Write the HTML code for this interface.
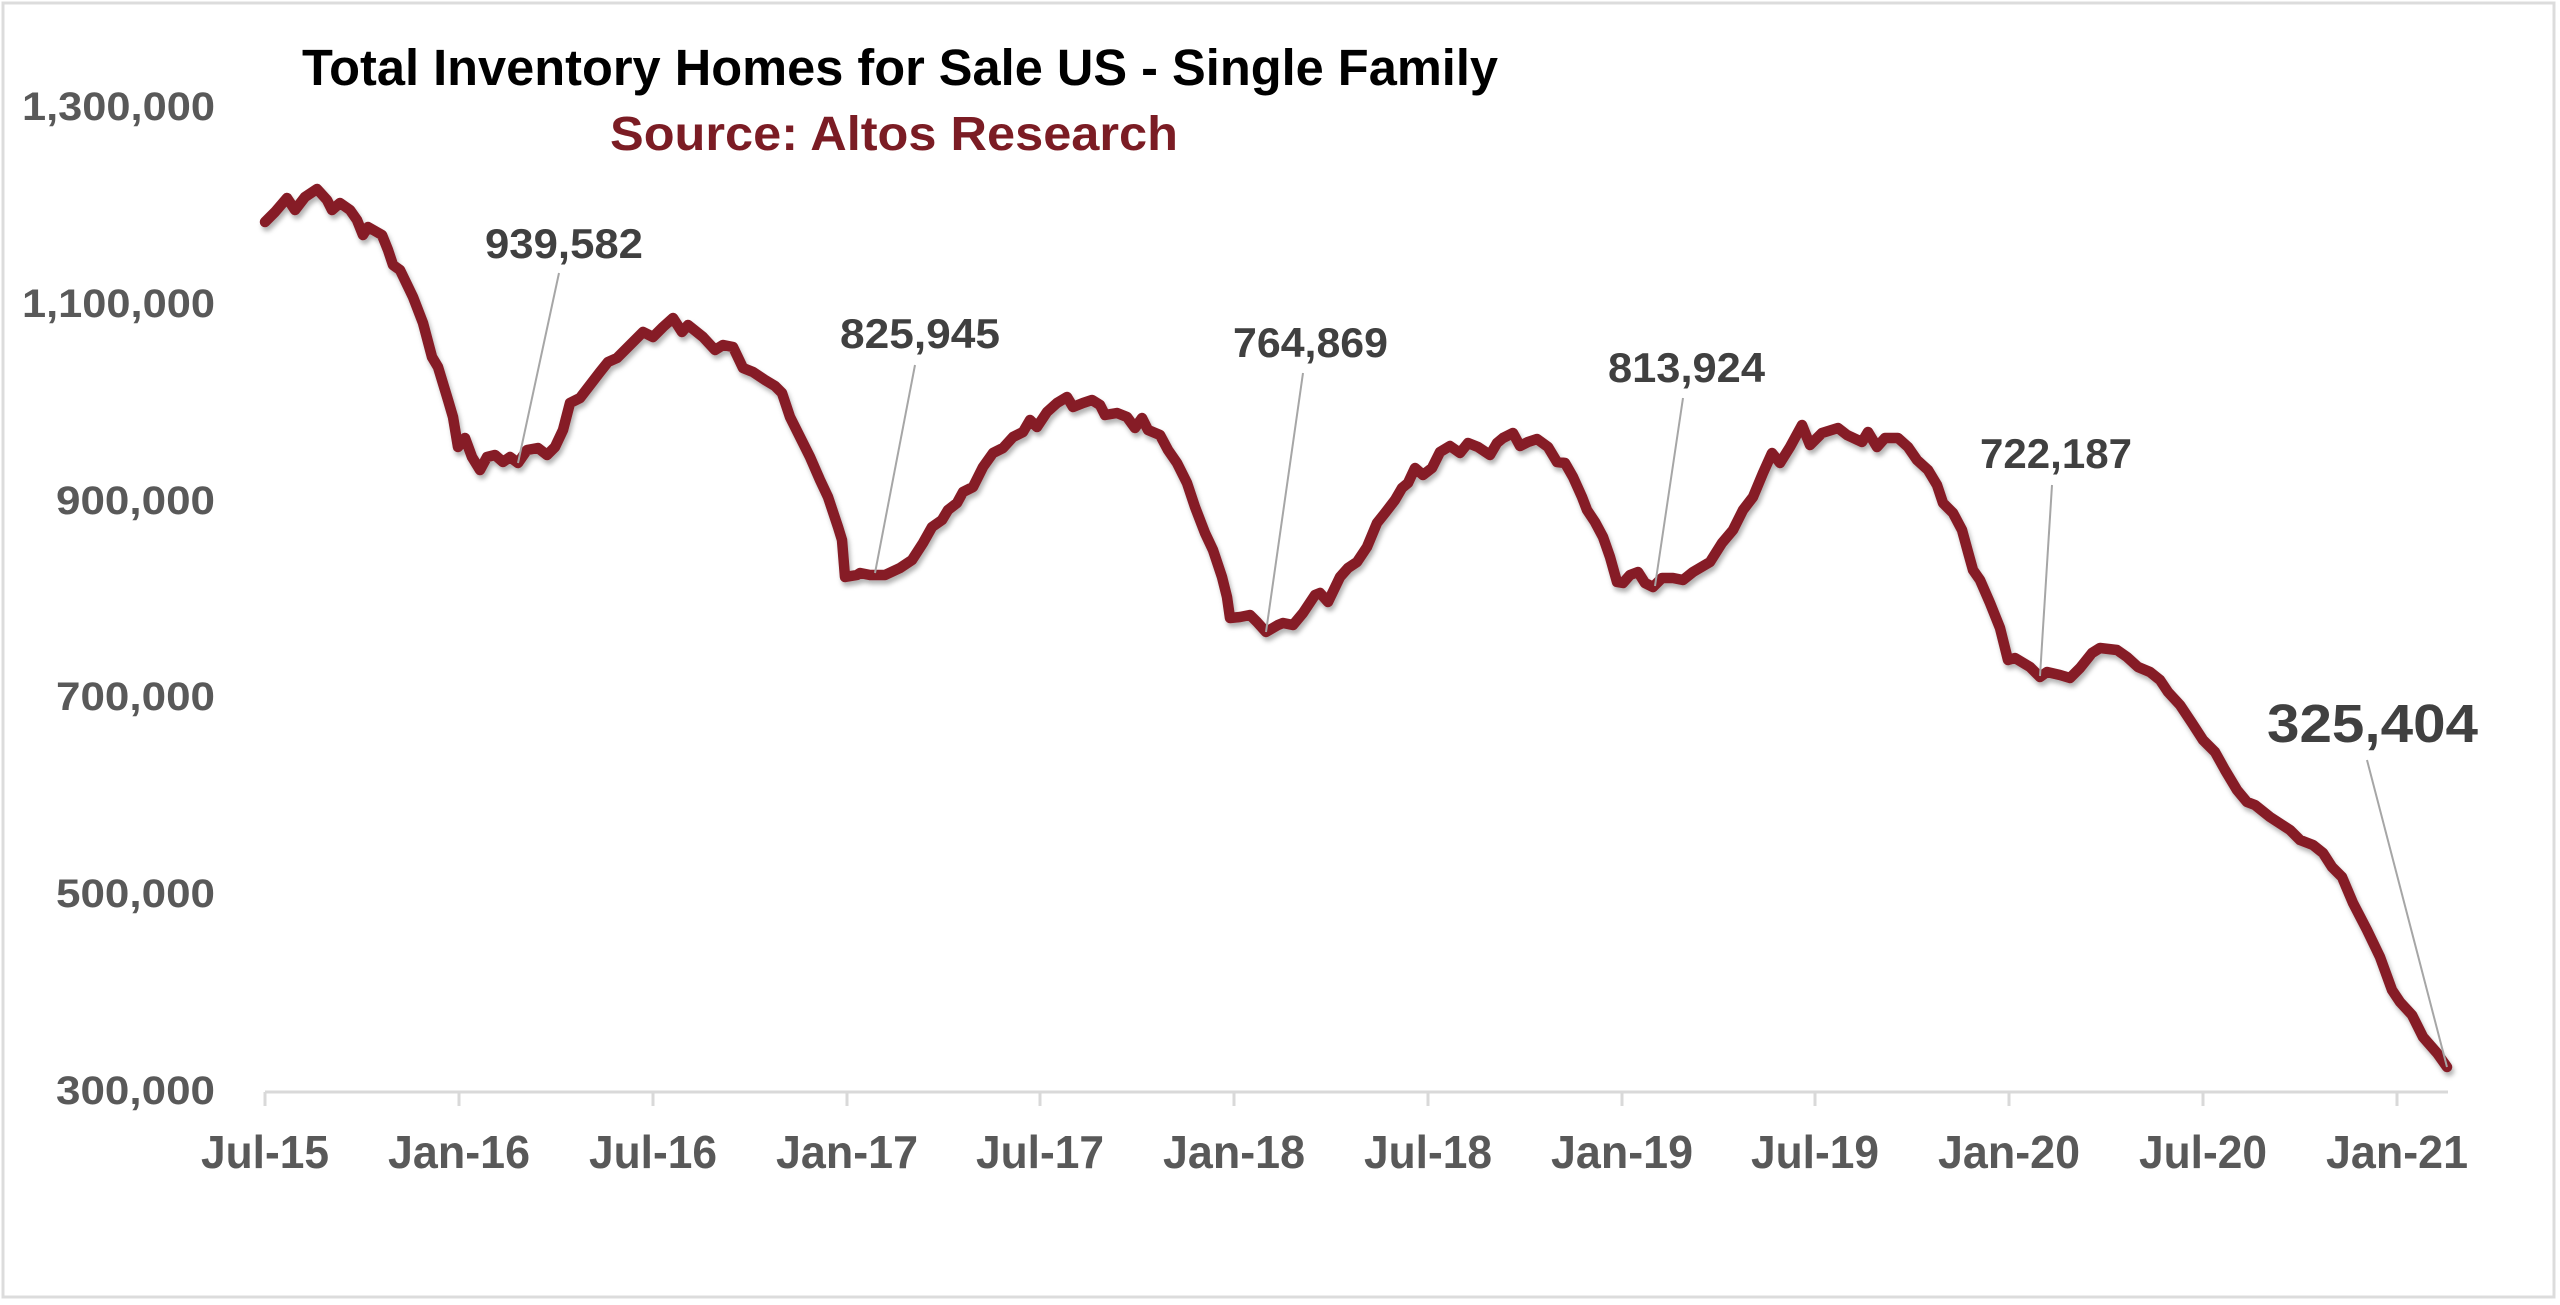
<!DOCTYPE html>
<html>
<head>
<meta charset="utf-8">
<style>
html,body{margin:0;padding:0;background:#fff;}
svg{display:block;}
text{font-family:"Liberation Sans",Arial,sans-serif;}
</style>
</head>
<body>
<svg width="2560" height="1305" viewBox="0 0 2560 1305" xmlns="http://www.w3.org/2000/svg">
<defs>
<filter id="sh" x="-5%" y="-5%" width="110%" height="115%">
<feDropShadow dx="2" dy="4" stdDeviation="2.5" flood-color="#000" flood-opacity="0.3"/>
</filter>
</defs>
<rect x="0" y="0" width="2560" height="1305" fill="#fff"/>
<rect x="3" y="3" width="2551" height="1294" fill="none" stroke="#dcdcdc" stroke-width="3"/>

<!-- Title -->
<text x="302" y="85" font-size="51" font-weight="bold" fill="#000" textLength="1196" lengthAdjust="spacingAndGlyphs">Total Inventory Homes for Sale US - Single Family</text>
<text x="610" y="150" font-size="48" font-weight="bold" fill="#7b1c24" textLength="568" lengthAdjust="spacingAndGlyphs">Source: Altos Research</text>

<!-- Y axis labels -->
<g font-size="40" font-weight="bold" fill="#595959">
<text x="22" y="120" textLength="193" lengthAdjust="spacingAndGlyphs">1,300,000</text>
<text x="22" y="317" textLength="193" lengthAdjust="spacingAndGlyphs">1,100,000</text>
<text x="56" y="514" textLength="159" lengthAdjust="spacingAndGlyphs">900,000</text>
<text x="56" y="710" textLength="159" lengthAdjust="spacingAndGlyphs">700,000</text>
<text x="56" y="907" textLength="159" lengthAdjust="spacingAndGlyphs">500,000</text>
<text x="56" y="1104" textLength="159" lengthAdjust="spacingAndGlyphs">300,000</text>
</g>

<!-- X axis -->
<line x1="265" y1="1092" x2="2448" y2="1092" stroke="#d9d9d9" stroke-width="3"/>
<g stroke="#d9d9d9" stroke-width="3">
<line x1="265" y1="1092" x2="265" y2="1106"/>
<line x1="459" y1="1092" x2="459" y2="1106"/>
<line x1="653" y1="1092" x2="653" y2="1106"/>
<line x1="847" y1="1092" x2="847" y2="1106"/>
<line x1="1040" y1="1092" x2="1040" y2="1106"/>
<line x1="1234" y1="1092" x2="1234" y2="1106"/>
<line x1="1428" y1="1092" x2="1428" y2="1106"/>
<line x1="1622" y1="1092" x2="1622" y2="1106"/>
<line x1="1815" y1="1092" x2="1815" y2="1106"/>
<line x1="2009" y1="1092" x2="2009" y2="1106"/>
<line x1="2203" y1="1092" x2="2203" y2="1106"/>
<line x1="2397" y1="1092" x2="2397" y2="1106"/>
</g>
<g font-size="46" font-weight="bold" fill="#595959">
<text x="201" y="1168" textLength="128" lengthAdjust="spacingAndGlyphs">Jul-15</text>
<text x="388" y="1168" textLength="142" lengthAdjust="spacingAndGlyphs">Jan-16</text>
<text x="589" y="1168" textLength="128" lengthAdjust="spacingAndGlyphs">Jul-16</text>
<text x="776" y="1168" textLength="142" lengthAdjust="spacingAndGlyphs">Jan-17</text>
<text x="976" y="1168" textLength="128" lengthAdjust="spacingAndGlyphs">Jul-17</text>
<text x="1163" y="1168" textLength="142" lengthAdjust="spacingAndGlyphs">Jan-18</text>
<text x="1364" y="1168" textLength="128" lengthAdjust="spacingAndGlyphs">Jul-18</text>
<text x="1551" y="1168" textLength="142" lengthAdjust="spacingAndGlyphs">Jan-19</text>
<text x="1751" y="1168" textLength="128" lengthAdjust="spacingAndGlyphs">Jul-19</text>
<text x="1938" y="1168" textLength="142" lengthAdjust="spacingAndGlyphs">Jan-20</text>
<text x="2139" y="1168" textLength="128" lengthAdjust="spacingAndGlyphs">Jul-20</text>
<text x="2326" y="1168" textLength="142" lengthAdjust="spacingAndGlyphs">Jan-21</text>
</g>

<!-- Series -->
<polyline filter="url(#sh)" fill="none" stroke="#861b25" stroke-width="10.5" stroke-linejoin="round" stroke-linecap="round" points="
265,222 275,212 287,198 295,210 305,197 317,189 327,200 332,210 340,203 350,210 357,220 363,235 368,227 382,235 388,250 393,265 400,270 413,297 423,323 432,357 438,367 448,400 453,417 458,447 465,438 472,457 480,470 487,457 495,455 503,462 510,457 518,463 527,450 538,448 547,455 555,447 563,430 570,403 580,398 590,385 600,372 608,362 617,358 632,343 643,332 653,337 663,327 673,318 682,332 688,325 703,337 715,350 723,345 733,347 743,368 753,372 765,380 775,386 782,393
790,417 800,437 810,457 820,480 828,497 838,527 842,540 845,577 857,575 860,573 870,575 885,575 900,568 912,560 923,543 932,527 942,520 948,510 957,503 963,492 973,487 983,467 993,453 1003,448 1013,437 1023,432 1030,420 1037,427 1047,412 1057,403 1067,397 1073,407 1083,403 1092,400 1100,405 1105,415 1117,413 1127,417 1135,428 1142,418 1148,430 1160,435 1168,450 1177,463 1187,483 1195,507 1205,533 1213,550 1222,577 1227,597 1230,618 1240,617 1250,615 1257,622 1266,632
1278,625 1283,623 1293,625 1303,613 1315,595 1320,593 1328,602 1340,577 1348,568 1357,562 1367,547 1377,523 1385,513 1395,500 1402,488 1408,483 1415,468 1423,475 1432,468 1440,452 1450,446 1460,453 1468,443 1478,447 1490,455 1497,443 1503,438 1513,433 1520,446 1528,442 1537,439 1548,447 1557,462 1565,463 1573,477 1582,497 1587,510 1595,522 1603,537 1610,557 1617,582 1623,583 1630,575 1638,572 1645,583 1653,587 1662,578 1673,578 1683,580 1693,572 1710,562 1722,543 1733,530 1743,510 1753,497 1763,473 1772,453 1780,463 1790,447
1802,425 1810,445 1822,433 1838,428 1847,435 1862,442 1868,432 1877,447 1885,438 1898,438 1908,447 1917,460 1928,470 1937,485 1943,503 1953,513 1962,530 1968,552 1973,570 1980,580 1990,603 2000,628 2008,660 2015,658 2030,667 2040,677 2047,672 2060,675 2070,678 2080,668 2092,653 2100,648 2117,650 2127,657 2138,667 2150,672 2160,680 2168,692 2180,705
2192,723 2203,740 2215,752 2225,770 2237,790 2247,802 2255,805 2270,817 2290,830 2300,840 2313,845 2323,853 2332,867 2342,877 2353,903 2367,930 2380,957 2392,990 2400,1002 2412,1015 2423,1037 2437,1053 2447,1067"/>

<!-- Leader lines -->
<g stroke="#a6a6a6" stroke-width="2" fill="none">
<line x1="559" y1="273" x2="518" y2="463"/>
<line x1="915" y1="365" x2="875" y2="573"/>
<line x1="1303" y1="373" x2="1266" y2="632"/>
<line x1="1683" y1="398" x2="1655" y2="586"/>
<line x1="2052" y1="485" x2="2040" y2="676"/>
<line x1="2367" y1="760" x2="2447" y2="1067"/>
</g>

<!-- Data labels -->
<g font-size="42" font-weight="bold" fill="#404040">
<text x="485" y="258" textLength="158" lengthAdjust="spacingAndGlyphs">939,582</text>
<text x="840" y="348" textLength="160" lengthAdjust="spacingAndGlyphs">825,945</text>
<text x="1233" y="357" textLength="155" lengthAdjust="spacingAndGlyphs">764,869</text>
<text x="1608" y="382" textLength="157" lengthAdjust="spacingAndGlyphs">813,924</text>
<text x="1980" y="468" textLength="152" lengthAdjust="spacingAndGlyphs">722,187</text>
</g>
<text x="2267" y="742" font-size="54" font-weight="bold" fill="#404040" textLength="211" lengthAdjust="spacingAndGlyphs">325,404</text>
</svg>
</body>
</html>
